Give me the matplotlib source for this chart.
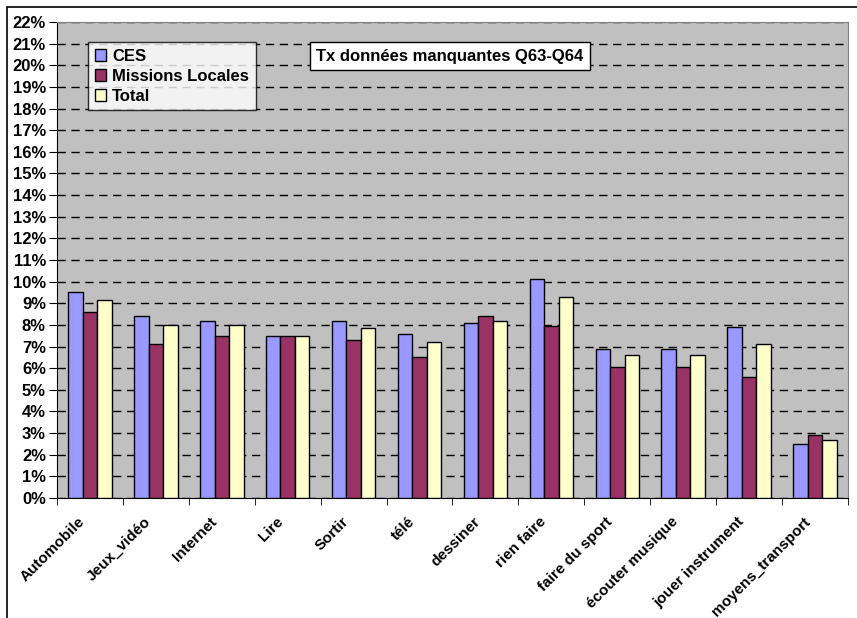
import numpy as np
import matplotlib
matplotlib.use('Agg')
import matplotlib.pyplot as plt
from matplotlib.patches import Rectangle
from matplotlib.ticker import FixedLocator, PercentFormatter
from matplotlib.transforms import ScaledTranslation

plt.rcParams['font.family'] = ['Liberation Sans', 'DejaVu Sans']
plt.rcParams['font.weight'] = 'bold'

categories = ['Automobile', 'Jeux_vidéo', 'Internet', 'Lire', 'Sortir', 'télé',
              'dessiner', 'rien faire', 'faire du sport', 'écouter musique',
              'jouer instrument', 'moyens_transport']
ces = [9.5, 8.4, 8.2, 7.5, 8.2, 7.6, 8.1, 10.1, 6.9, 6.9, 7.9, 2.5]
missions_locales = [8.6, 7.1, 7.5, 7.5, 7.3, 6.5, 8.4, 7.95, 6.05, 6.05, 5.6, 2.93]
total = [9.15, 8.0, 8.0, 7.5, 7.87, 7.2, 8.2, 9.3, 6.62, 6.62, 7.1, 2.67]
series_names = ['CES', 'Missions Locales', 'Total']
colors = ['#9999FF', '#993366', '#FFFFCC']

fig = plt.figure(figsize=(8.57, 6.18), dpi=100)
ax = fig.add_axes([57 / 857, 1 - 498 / 618, 791 / 857, 476 / 618])
ax.set_facecolor('#C0C0C0')

x = np.arange(len(categories))
w = 0.22
for i, (vals, name, col) in enumerate(zip([ces, missions_locales, total], series_names, colors)):
    ax.bar(x + (i - 1) * w, vals, w, color=col, edgecolor='black', linewidth=1.0,
           label=name, zorder=3)

ax.set_xlim(-0.5, len(categories) - 0.5)
ax.set_ylim(0, 22)
ax.yaxis.set_major_locator(FixedLocator(np.arange(0, 23, 1)))
ax.yaxis.set_major_formatter(PercentFormatter(decimals=0))
ax.grid(axis='y', color='black', linestyle=(0, (6, 4)), linewidth=1.0, zorder=1)
ax.set_axisbelow(True)

ax.set_xticks(x)
ax.set_xticklabels(categories, rotation=45, ha='right', rotation_mode='anchor',
                   fontsize=11, fontweight='bold')
ax.xaxis.set_minor_locator(FixedLocator(np.arange(-0.5, len(categories), 1)))
ax.tick_params(axis='x', which='major', length=0, pad=12)
ax.tick_params(axis='x', which='minor', length=5, direction='out', color='black')
ax.tick_params(axis='y', length=6, direction='out', labelsize=12, pad=2)
for lab in ax.get_yticklabels():
    lab.set_fontweight('bold')
shift = ScaledTranslation(-0.12, 0, fig.dpi_scale_trans)
for lab in ax.get_xticklabels():
    lab.set_transform(lab.get_transform() + shift)

ax.spines['left'].set_color('black')
ax.spines['bottom'].set_color('black')
ax.spines['top'].set_color('#808080')
ax.spines['right'].set_color('#808080')

leg = ax.legend(loc='upper left', bbox_to_anchor=(31 / 791, 1 - 20 / 476),
                frameon=True, fancybox=False, fontsize=12, handlelength=0.7,
                handleheight=0.7, handletextpad=0.35, borderpad=0.4,
                labelspacing=0.3, borderaxespad=0)
leg.get_frame().set_edgecolor('black')
leg.get_frame().set_linewidth(1.0)
for t in leg.get_texts():
    t.set_fontweight('bold')

ax.text(393 / 791, 1 - 34 / 476, 'Tx données manquantes Q63-Q64', transform=ax.transAxes,
        ha='center', va='center', fontsize=12, fontweight='bold', zorder=5,
        bbox=dict(boxstyle='square,pad=0.4', facecolor='white', edgecolor='black',
                  linewidth=1.0))

fig.patches.append(Rectangle((7 / 857, -0.1), 1.2, 1 - 7 / 618 + 0.1,
                             transform=fig.transFigure, fill=False,
                             edgecolor='black', linewidth=1.2))

fig.savefig('out.png', dpi=100)
